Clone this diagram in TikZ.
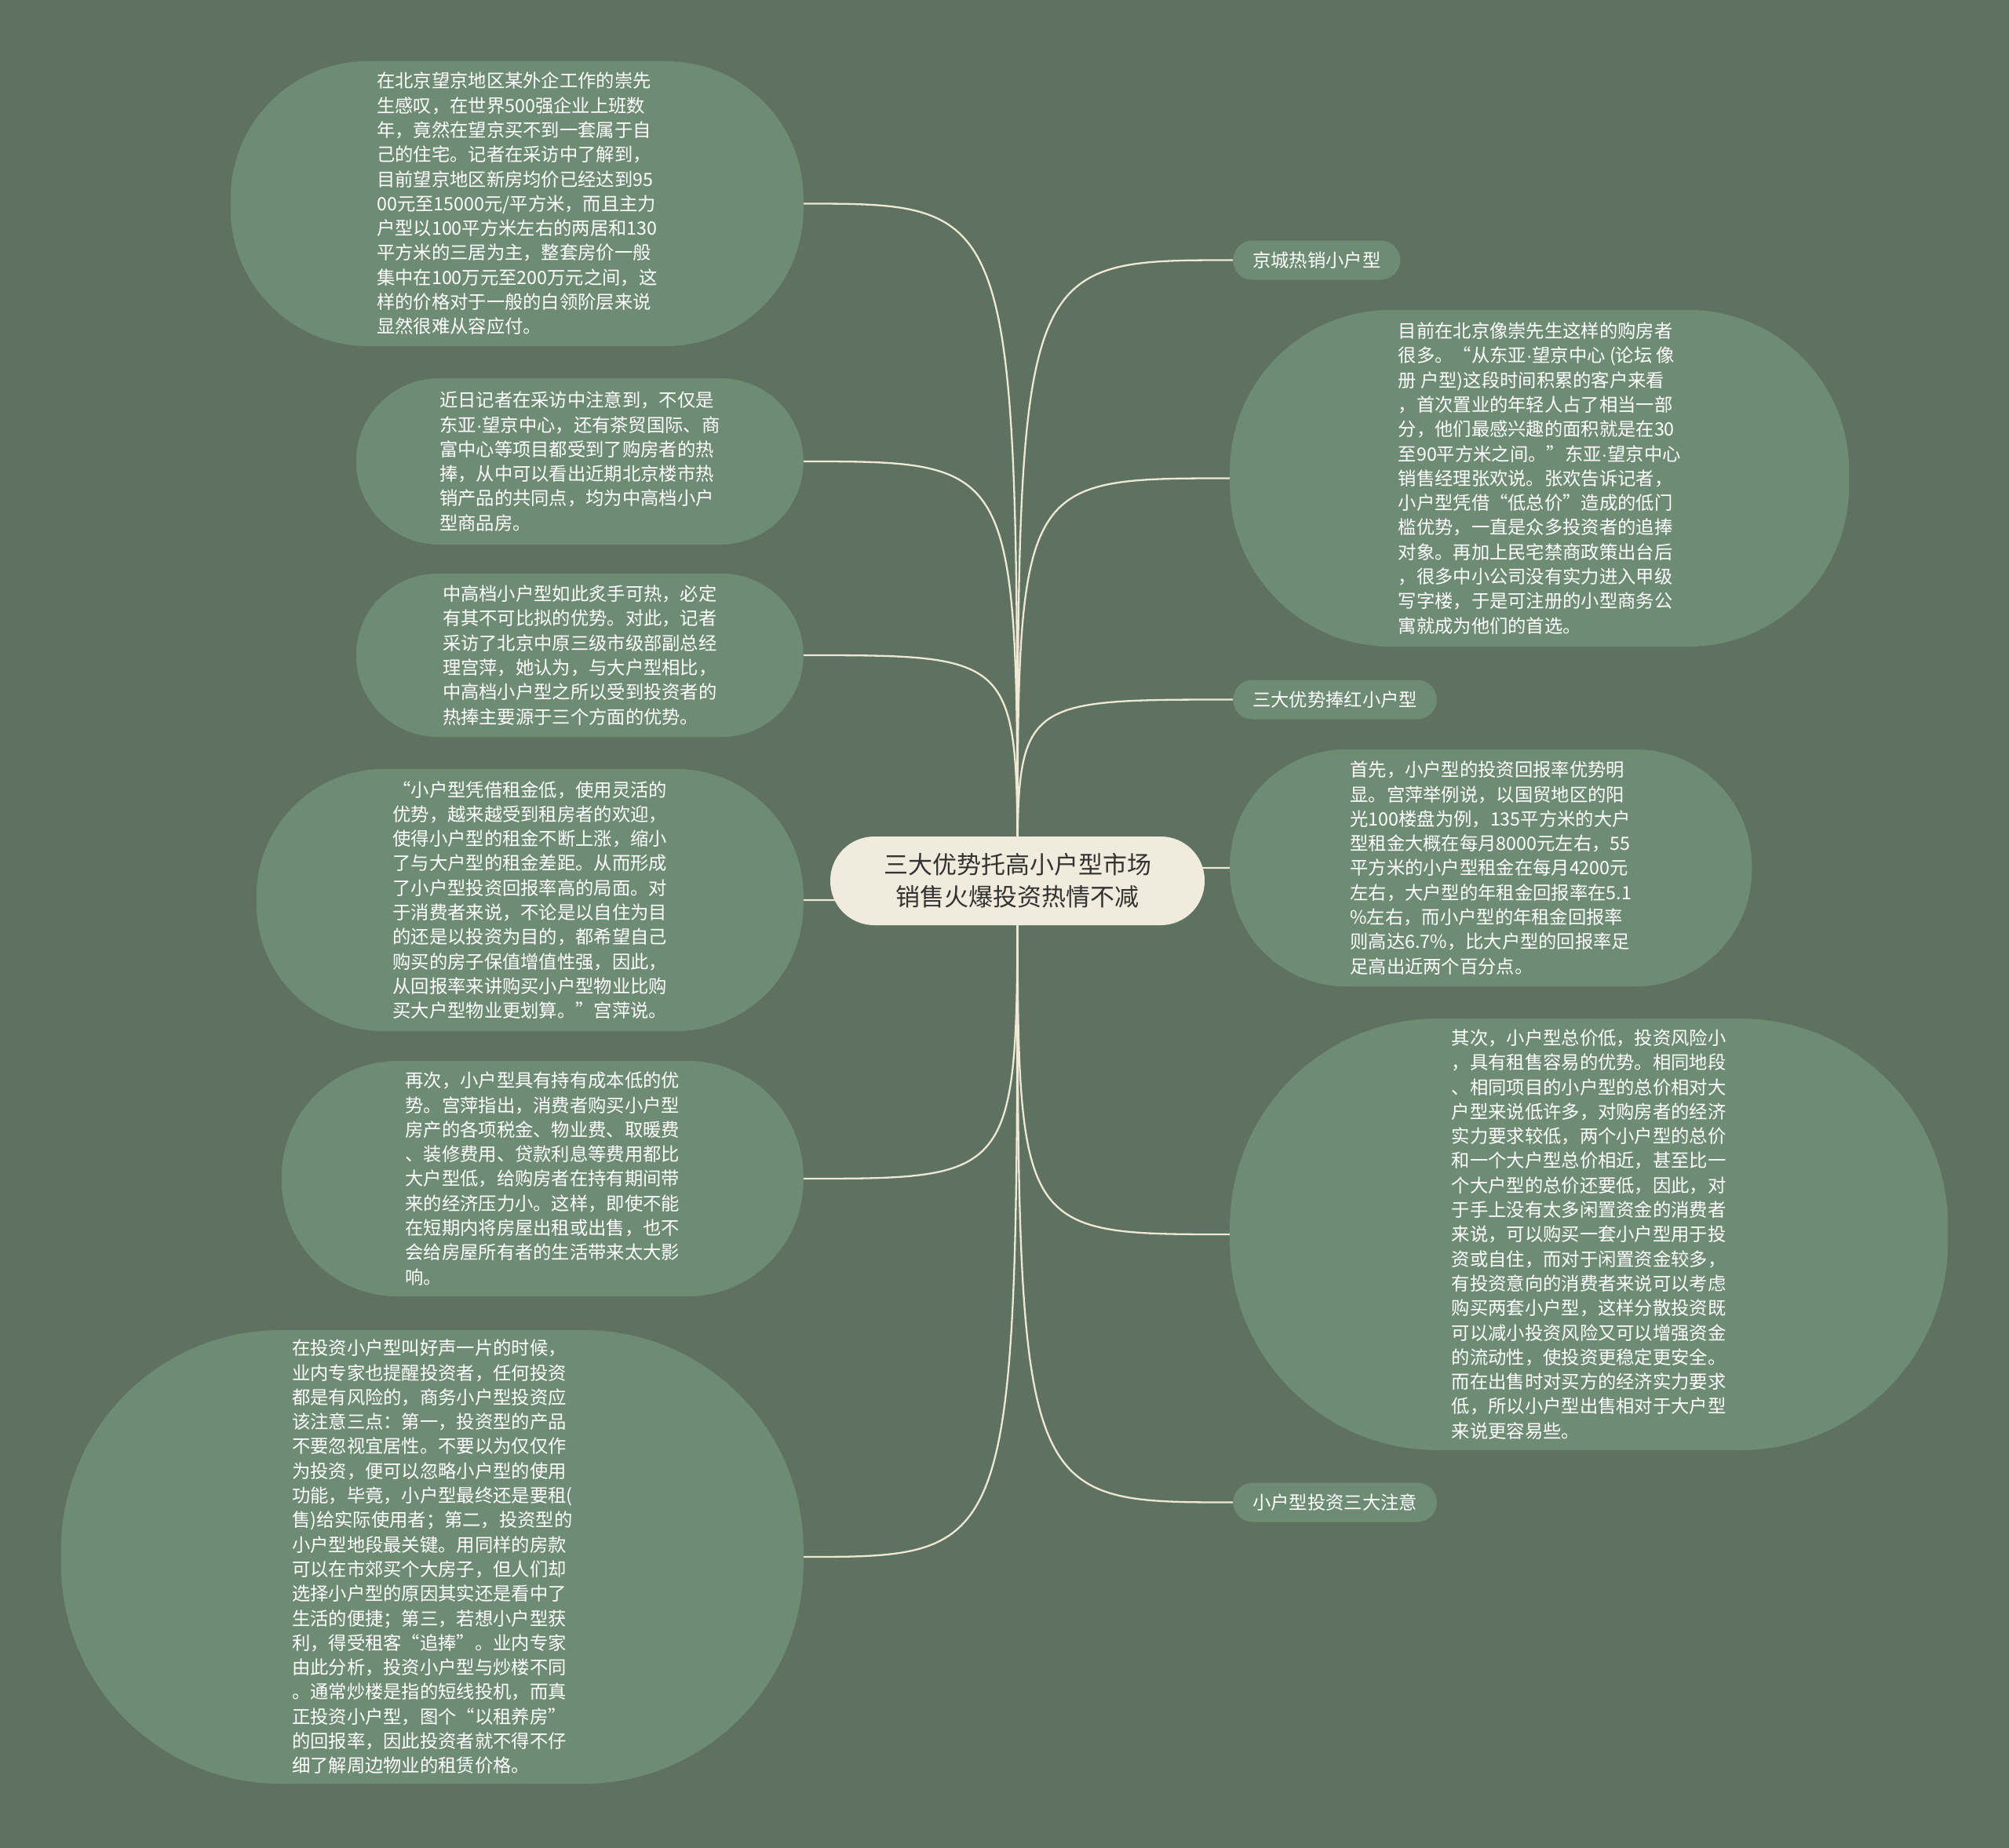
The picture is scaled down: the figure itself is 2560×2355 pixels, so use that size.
\documentclass[tikz,border=0pt]{standalone}
\usepackage{fontspec}
\setmainfont{Noto Sans CJK SC}
\newfontfamily\latinf{Liberation Sans}
\newcommand{\mdot}{{\latinf ·}}
\definecolor{bgc}{HTML}{5F7261}
\definecolor{nodec}{HTML}{6E8B74}
\definecolor{rootc}{HTML}{F0EBDC}
\definecolor{linec}{HTML}{EEE8D5}
\definecolor{roottext}{HTML}{333333}
\pgfdeclarelayer{bglayer}
\pgfdeclarelayer{edgelayer}
\pgfsetlayers{bglayer,edgelayer,main}
\tikzset{
  leaf/.style={rectangle, fill=nodec, text=white, align=left, inner sep=0pt,
    font=\fontsize{23.3}{31.3}\selectfont},
  lbl/.style={rectangle, fill=nodec, text=white, inner xsep=25pt, inner ysep=0pt,
    minimum height=50pt, rounded corners=25pt, font=\fontsize{23.3}{28}\selectfont},
  rootnode/.style={rectangle, fill=rootc, text=roottext, align=center, inner sep=0pt,
    minimum width=477pt, minimum height=113pt, rounded corners=56pt,
    font=\fontsize{31}{41}\selectfont},
  conn/.style={draw=linec, line width=2.3pt}
}
\begin{document}
\begin{tikzpicture}[x=1pt,y=-1pt]
\useasboundingbox (0,0) rectangle (2560,2355);
\begin{pgfonlayer}{bglayer}
\fill[bgc] (0,0) rectangle (2560,2355);
\end{pgfonlayer}

\node[rootnode] (c) at (1296.5,1122.5) {三大优势托高小户型市场\\销售火爆投资热情不减};

% left side
\node[leaf, anchor=east, minimum width=730pt, minimum height=363pt, rounded corners=175pt] (n1) at (1024,259.5) {在北京望京地区某外企工作的崇先\\生感叹，在世界500强企业上班数\\年，竟然在望京买不到一套属于自\\己的住宅。记者在采访中了解到，\\目前望京地区新房均价已经达到95\\00元至15000元/平方米，而且主力\\户型以100平方米左右的两居和130\\平方米的三居为主，整套房价一般\\集中在100万元至200万元之间，这\\样的价格对于一般的白领阶层来说\\显然很难从容应付。};

\node[leaf, anchor=east, minimum width=570pt, minimum height=212pt, rounded corners=106pt] (n2) at (1024,588) {近日记者在采访中注意到，不仅是\\东亚\mdot 望京中心，还有茶贸国际、商\\富中心等项目都受到了购房者的热\\捧，从中可以看出近期北京楼市热\\销产品的共同点，均为中高档小户\\型商品房。};

\node[leaf, anchor=east, minimum width=570pt, minimum height=208pt, rounded corners=104pt] (n3) at (1024,835) {中高档小户型如此炙手可热，必定\\有其不可比拟的优势。对此，记者\\采访了北京中原三级市级部副总经\\理宫萍，她认为，与大户型相比，\\中高档小户型之所以受到投资者的\\热捧主要源于三个方面的优势。};

\node[leaf, anchor=east, minimum width=697pt, minimum height=334pt, rounded corners=162pt] (n4) at (1024,1147) {“小户型凭借租金低，使用灵活的\\优势，越来越受到租房者的欢迎，\\使得小户型的租金不断上涨，缩小\\了与大户型的租金差距。从而形成\\了小户型投资回报率高的局面。对\\于消费者来说，不论是以自住为目\\的还是以投资为目的，都希望自己\\购买的房子保值增值性强，因此，\\从回报率来讲购买小户型物业比购\\买大户型物业更划算。”宫萍说。};

\node[leaf, anchor=east, minimum width=665pt, minimum height=300pt, rounded corners=148pt] (n5) at (1024,1502) {再次，小户型具有持有成本低的优\\势。宫萍指出，消费者购买小户型\\房产的各项税金、物业费、取暖费\\、装修费用、贷款利息等费用都比\\大户型低，给购房者在持有期间带\\来的经济压力小。这样，即使不能\\在短期内将房屋出租或出售，也不\\会给房屋所有者的生活带来太大影\\响。};

\node[leaf, anchor=east, minimum width=946pt, minimum height=578pt, rounded corners=280pt] (n6) at (1024,1984) {在投资小户型叫好声一片的时候，\\业内专家也提醒投资者，任何投资\\都是有风险的，商务小户型投资应\\该注意三点：第一，投资型的产品\\不要忽视宜居性。不要以为仅仅作\\为投资，便可以忽略小户型的使用\\功能，毕竟，小户型最终还是要租(\\售)给实际使用者；第二，投资型的\\小户型地段最关键。用同样的房款\\可以在市郊买个大房子，但人们却\\选择小户型的原因其实还是看中了\\生活的便捷；第三，若想小户型获\\利，得受租客“追捧”。业内专家\\由此分析，投资小户型与炒楼不同\\。通常炒楼是指的短线投机，而真\\正投资小户型，图个“以租养房”\\的回报率，因此投资者就不得不仔\\细了解周边物业的租赁价格。};

% right side
\node[lbl, anchor=west] (l1) at (1571,331.5) {京城热销小户型};

\node[leaf, anchor=west, minimum width=789pt, minimum height=429pt, rounded corners=205pt] (r1) at (1567,609.5) {目前在北京像崇先生这样的购房者\\很多。“从东亚\mdot 望京中心 (论坛 像\\册 户型)这段时间积累的客户来看\\，首次置业的年轻人占了相当一部\\分，他们最感兴趣的面积就是在30\\至90平方米之间。”东亚\mdot 望京中心\\销售经理张欢说。张欢告诉记者，\\小户型凭借“低总价”造成的低门\\槛优势，一直是众多投资者的追捧\\对象。再加上民宅禁商政策出台后\\，很多中小公司没有实力进入甲级\\写字楼，于是可注册的小型商务公\\寓就成为他们的首选。};

\node[lbl, anchor=west] (l2) at (1571,891.5) {三大优势捧红小户型};

\node[leaf, anchor=west, minimum width=665pt, minimum height=302pt, rounded corners=148pt] (r2) at (1567,1106) {首先，小户型的投资回报率优势明\\显。宫萍举例说，以国贸地区的阳\\光100楼盘为例，135平方米的大户\\型租金大概在每月8000元左右，55\\平方米的小户型租金在每月4200元\\左右，大户型的年租金回报率在5.1\\\%左右，而小户型的年租金回报率\\则高达6.7\%，比大户型的回报率足\\足高出近两个百分点。};

\node[leaf, anchor=west, minimum width=915pt, minimum height=550pt, rounded corners=265pt] (r3) at (1567,1573) {其次，小户型总价低，投资风险小\\，具有租售容易的优势。相同地段\\、相同项目的小户型的总价相对大\\户型来说低许多，对购房者的经济\\实力要求较低，两个小户型的总价\\和一个大户型总价相近，甚至比一\\个大户型的总价还要低，因此，对\\于手上没有太多闲置资金的消费者\\来说，可以购买一套小户型用于投\\资或自住，而对于闲置资金较多，\\有投资意向的消费者来说可以考虑\\购买两套小户型，这样分散投资既\\可以减小投资风险又可以增强资金\\的流动性，使投资更稳定更安全。\\而在出售时对买方的经济实力要求\\低，所以小户型出售相对于大户型\\来说更容易些。};

\node[lbl, anchor=west] (l3) at (1571,1914.5) {小户型投资三大注意};

\begin{pgfonlayer}{edgelayer}
\foreach \n in {n1,n2,n3,n4,n5,n6}
  \draw[conn] (c.center) .. controls (c.center |- \n.east) and (c.center |- \n.east) .. (\n.east);
\foreach \n in {l1,r1,l2,r2,r3,l3}
  \draw[conn] (c.center) .. controls (c.center |- \n.west) and (c.center |- \n.west) .. (\n.west);
\end{pgfonlayer}
\end{tikzpicture}
\end{document}
